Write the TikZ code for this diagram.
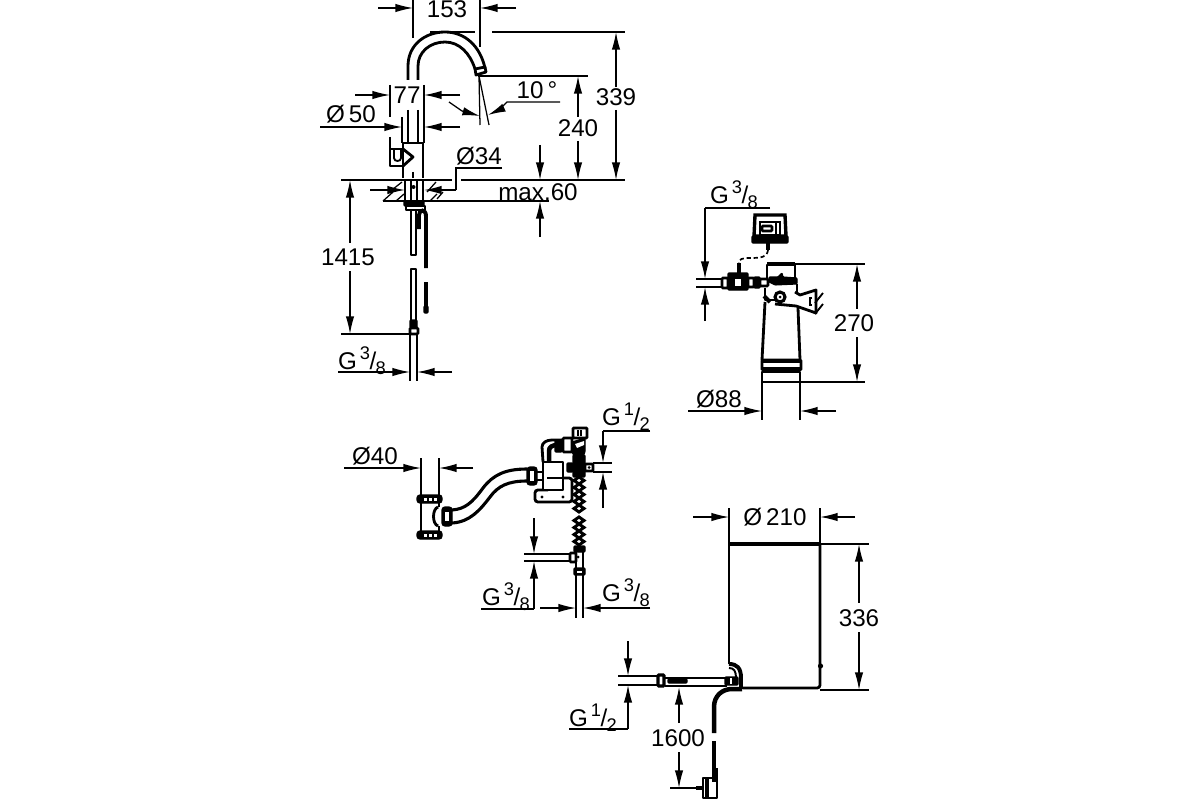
\documentclass[tikz,border=0pt]{standalone}
\usepackage{fontspec}
\setmainfont{Liberation Sans}
\usepackage{tikz}
\usetikzlibrary{arrows.meta}
\tikzset{>={Latex[width=2.1mm,length=4.4mm]}}
\tikzset{
  dimline/.style={line width=0.9pt},
  dimlabel/.style={inner sep=0pt, font=\fontsize{17.2}{19}\selectfont},
  outline/.style={line width=2pt, line join=round},
  heavy/.style={line width=2.8pt},
  solid part/.style={fill=black, draw=black, line width=0.8pt, rounded corners=0.6pt},
  hollow part/.style={fill=white, draw=black, line width=1.8pt, rounded corners=0.6pt},
}
\newcommand{\gsize}[2]{G\kern0.12em\raisebox{0.42em}{\fontsize{13}{14}\selectfont #1}\kern-0.02em/\kern-0.02em\raisebox{-0.2em}{\fontsize{13}{14}\selectfont #2}}
\begin{document}
\begin{tikzpicture}[x=0.025cm, y=-0.025cm]
    \useasboundingbox (0,0) rectangle (1200,800);

    % tap: spout
    \draw[outline] (408,80) -- (408,66) .. controls (408,45) and (425,32) .. (445,32) .. controls (465,32) and (480,46) .. (485,68);
    \draw[outline] (418,80) -- (418,66) .. controls (418,52) and (430,42) .. (445,42) .. controls (459,42) and (470,53) .. (475,69);
    \draw[outline] (475,69) -- (485,67) -- (486,72) -- (476,75) -- cycle;
    \draw[dimline] (479,76) -- (480,125) (479,76) -- (489,125);

    % tap: body and handle
    \draw[outline] (408,110) -- (408,143) (418,110) -- (418,143);
    \draw[outline] (403,178) -- (403,143) -- (423,143) -- (423,178);
    \draw[outline] (403,149) -- (390,149) -- (390,166) -- (403,166);
    \draw[outline] (403,149) -- (413,157) -- (403,166);
    \draw[line width=1.3pt] (394,150) -- (394,158) .. controls (394,162) and (401,162) .. (401,158) -- (401,150);
    \draw[dimline] (413,172) -- (413,178);

    % tap: deck fixing
    \draw[outline] (405,180) -- (405,204) (423,180) -- (423,204);
    \draw[outline] (411,181) -- (411,201) (417,181) -- (417,201);
    \fill (413.5,187) circle (2);
    \draw[solid part] (404,201) rectangle (424,206);
    \draw[outline] (406,206) rectangle (425,210);
    \draw[dimline] (388,193) -- (402,182) (383,201) -- (393,192) (396,201) -- (404,194);
    \draw[dimline] (427,192) -- (436,182) (430,201) -- (437,194) (437,199) -- (443,192);

    % tap: hoses
    \draw[outline] (411,210) -- (411,255) -- (416,255) -- (416,210);
    \draw[outline] (411,320) -- (411,269) -- (416,269) -- (416,320);
    \draw[solid part] (410,320) rectangle (417,328);
    \draw[hollow part] (410,328) rectangle (418,334);
    \draw[heavy] (419,229) -- (419,215) .. controls (419,209) and (426,209) .. (426,216) -- (426,268);
    \draw[heavy] (426,282) -- (426,306);
    \draw[solid part] (424,306) rectangle (428,313);
    \draw[dimline] (410,334) -- (410,381) (417,334) -- (417,381);

    % tap: dimensions
    \draw[dimline] (413,0) -- (413,38) (480,0) -- (480,47);
    \draw[dimline,->] (378,8) -- (413,8);
    \draw[dimline,->] (516,8) -- (480,8);
    \node[dimlabel] (label153) at (447,9) {153};
    \draw[dimline] (430,32) -- (475,32) (492,32) -- (625,32);
    \draw[dimline,<-] (616,32) -- (616,87);
    \draw[dimline,->] (616,110) -- (616,180);
    \node[dimlabel] (label339) at (616,97) {339};
    \draw[dimline] (341,180) -- (452,180) (461,180) -- (625,180);
    \draw[dimline] (478,76) -- (588,76);
    \draw[dimline,<-] (578,76) -- (578,117);
    \draw[dimline,->] (578,141) -- (578,180);
    \node[dimlabel] (label240) at (578,128) {240};
    \node[dimlabel] (label10) at (537,90) {10\,°};
    \draw[dimline,->] (449,102) -- (462,111) -- (480,116);
    \draw[dimline,->] (560,102) -- (507,102) -- (499,110) -- (488,115);
    \draw[dimline] (390,85) -- (390,117) (424,85) -- (424,143) (402,117) -- (402,143) (390,137) -- (390,149);
    \draw[dimline,->] (355,95) -- (390,95);
    \draw[dimline,->] (460,95) -- (424,95);
    \node[dimlabel] (label77) at (407,95) {77};
    \draw[dimline,->] (320,127) -- (402,127);
    \draw[dimline,->] (460,127) -- (424,127);
    \node[dimlabel] (label50) at (351,114) {Ø\,50};
    \node[dimlabel] (label34) at (479,156) {Ø34};
    \draw[dimline] (502,168) -- (456,168) -- (456,190);
    \draw[dimline,->] (456,190) -- (424,190);
    \draw[dimline,->] (370,190) -- (405,190);
    \draw[line width=1.6pt] (383,201) -- (432,201);
    \draw[dimline] (432,201) -- (549,201);
    \node[dimlabel] (labelmax) at (538,192) {max.60};
    \draw[dimline,->] (540,145) -- (540,180);
    \draw[dimline,->] (540,237) -- (540,201);
    \draw[dimline,<-] (350,180) -- (350,243);
    \draw[dimline,->] (350,271) -- (350,334);
    \node[dimlabel] (label1415) at (348,257) {1415};
    \draw[dimline] (341,334) -- (410,334);
    \node[dimlabel] (labelga) at (362,361) {\gsize{3}{8}};
    \draw[dimline,->] (338,372) -- (410,372);
    \draw[dimline,->] (452,372) -- (417,372);

    % filter: controller and cable
    \draw[line width=2.4pt, fill=white] (755,215) -- (785,215) -- (786,236) -- (754,236) -- cycle;
    \draw[solid part] (752,236) -- (788,236) -- (788,243) -- (752,243) -- cycle;
    \draw[line width=1.3pt] (760,222) rectangle (780,235);
    \draw[hollow part] (762,226) rectangle (772,231);
    \draw[line width=1.4pt] (776,223) -- (776,234);
    \draw[heavy] (768,243) -- (768,250);
    \draw[densely dashed, line width=1.2pt] (768,250) .. controls (767,257) and (762,258) .. (750,258) .. controls (742,258) and (739,259) .. (739,263);
    \draw[heavy] (739,263) -- (739,273);

    % filter: valve and head
    \draw[dimline] (696,279) -- (722,279) (696,287) -- (722,287);
    \draw[hollow part] (722,278) rectangle (728,288);
    \draw[solid part] (728,273) rectangle (748,290);
    \fill[white] (735,279) rectangle (741,286);
    \draw[hollow part] (748,278) rectangle (754,287);
    \draw[solid part] (754,277) rectangle (760,288);
    \draw[hollow part] (760,279) rectangle (768,286);
    \draw[outline] (767,279) -- (767,265) -- (795,265) -- (795,279);
    \draw[heavy] (767,264) -- (795,264);
    \draw[solid part] (769,277) -- (778,277) -- (782,273) -- (783,277) -- (797,278) -- (797,284) -- (775,285) -- (769,282) -- cycle;

    % filter: body
    \draw[outline] (765,288) -- (765,300) -- (797,300) -- (797,284);
    \draw[heavy] (764,296) -- (770,302);
    \draw[outline] (765,302) -- (762,360);
    \draw[outline] (798,308) -- (800,360);
    \draw[hollow part] (762,360) rectangle (801,370);
    \draw[heavy] (762,361) -- (801,361);
    \draw[heavy] (762,369) -- (801,369);
    \draw[outline] (762,372) rectangle (800,382);

    % filter: bracket
    \draw[outline, fill=white] (775,304) -- (796,306) -- (816,313) -- (816,290) -- (800,295) -- (795,292);
    \draw[hollow part, line width=2.2pt] (780,297) circle (5);
    \fill (780,297) circle (1.5);
    \draw[line width=1.3pt] (823,293) -- (815,303) (823,304) -- (815,314);
    \draw[line width=1.3pt] (812,298) -- (810,298) -- (810,305) -- (812,305);

    % filter: dimensions
    \node[dimlabel] (labelgb) at (734,195) {\gsize{3}{8}};
    \draw[dimline] (770,208) -- (705,208);
    \draw[dimline,->] (705,208) -- (705,279);
    \draw[dimline,->] (705,321) -- (705,287);
    \draw[dimline] (795,264) -- (865,264) (800,382) -- (865,382);
    \draw[dimline,<-] (857,264) -- (857,309);
    \draw[dimline,->] (857,337) -- (857,382);
    \node[dimlabel] (label270) at (854,323) {270};
    \draw[dimline] (762,382) -- (762,420) (800,382) -- (800,420);
    \draw[dimline,->] (688,411) -- (762,411);
    \draw[dimline,->] (836,411) -- (800,411);
    \node[dimlabel] (label88) at (719,399) {Ø88};

    % waste pipe and hose
    \draw[outline] (421,503) -- (421,531) (439,503) -- (439,507) (439,526) -- (439,531);
    \draw[outline, fill=white] (438,507) .. controls (432,509) and (432,524) .. (438,526);
    \draw[solid part, rounded corners=2pt] (417,495) rectangle (442,503);
    \draw[solid part, rounded corners=2pt] (417,531) rectangle (442,539);
    \foreach \px in {424,429,434} {
      \fill[white] (\px,497.5) rectangle ++(2.5,3);
      \fill[white] (\px,533.5) rectangle ++(2.5,3);
    }
    \draw[solid part, rounded corners=2pt] (442,507) rectangle (452,526);
    \fill[white] (445,512) rectangle (449,521);
    \draw[line width=2.2pt] (452,510) .. controls (465,509) and (472,503) .. (483,488) .. controls (493,475) and (505,469) .. (527,469);
    \draw[line width=2.2pt] (452,523) .. controls (470,522) and (480,510) .. (490,497) .. controls (498,486) and (508,481) .. (527,481);
    \draw[solid part, rounded corners=2pt] (527,467) rectangle (537,485);
    \fill[white] (530,471) rectangle (534,481);

    % mixing unit
    \draw[outline] (537,472) -- (543,472) (537,480) -- (543,480);
    \draw[line width=2pt, rounded corners=2pt] (548,490) -- (535,490) -- (535,502) -- (572,502) -- (572,478) -- (563,478);
    \draw[outline, fill=white] (543,462) rectangle (563,490);
    \draw[outline] (547,478) -- (563,478);
    \fill (542,497) circle (1.6) (563,497) circle (1.6);
    \draw[outline] (543,462) -- (542,447) .. controls (542,443) and (546,440) .. (552,440) -- (564,440);
    \draw[line width=3.2pt] (549,462) -- (549,451) .. controls (549,447) and (552,445) .. (558,445);
    \draw[solid part] (555,440) rectangle (562,452);
    \draw[hollow part] (563,438) rectangle (572,452);
    \draw[solid part] (572,442) -- (585,438) -- (585,452) -- (582,458) -- (575,458) -- (572,452) -- cycle;
    \draw[hollow part, line width=2pt] (573,428) rectangle (587,438);
    \draw[dimline] (578,430) -- (578,436) (581,430) -- (581,436);
    \fill[white] (575,444) -- (584,441) -- (584,445) -- (577,448) -- cycle;
    \draw[solid part] (573,455) rectangle (585,477);
    \draw[solid part] (567,463) rectangle (573,472);
    \draw[hollow part] (585,464) rectangle (593,471);
    \fill (589,467.5) circle (1.5);
    \draw[dimline] (593,463) -- (612,463) (593,472) -- (612,472);

    % braided hose
    \foreach \py in {477,484,...,505,517,524,...,538} {
      \draw[line width=2.1pt] (579,\py) -- (584,\py+3.5) -- (579,\py+7) -- (574,\py+3.5) -- cycle;
    }
    \draw[solid part] (574,546) rectangle (585,552);
    \draw[outline] (576,552) -- (576,568) (583,552) -- (583,568);
    \draw[hollow part] (570,553) rectangle (576,562);
    \fill (578,557) circle (1.5);
    \draw[solid part] (574,568) rectangle (585,575);
    \fill[white] (577,570.5) rectangle (582,572.5);
    \draw[dimline] (576,575) -- (576,618) (583,575) -- (583,618);
    \draw[dimline] (524,554) -- (570,554) (524,561) -- (570,561);

    % waste and mixing dimensions
    \node[dimlabel] (label40) at (375,456) {Ø40};
    \draw[dimline] (421,458) -- (421,495) (439,458) -- (439,495);
    \draw[dimline,->] (344,468) -- (421,468);
    \draw[dimline,->] (473,468) -- (439,468);
    \node[dimlabel] (labelgc) at (626,417) {\gsize{1}{2}};
    \draw[dimline] (650,431) -- (603,431);
    \draw[dimline,->] (603,431) -- (603,463);
    \draw[dimline,->] (603,508) -- (603,472);
    \draw[dimline,->] (534,518) -- (534,554);
    \draw[dimline,->] (534,609) -- (534,561);
    \draw[dimline] (481,609) -- (534,609);
    \node[dimlabel] (labelgd) at (506,597) {\gsize{3}{8}};
    \draw[dimline,->] (540,608) -- (576,608);
    \draw[dimline,->] (650,608) -- (583,608);
    \node[dimlabel] (labelge) at (626,593) {\gsize{3}{8}};

    % tank
    \draw[heavy] (729,544) -- (820,544);
    \draw[outline] (729,544) -- (729,664);
    \draw[outline, rounded corners=2pt] (820,544) -- (820,688) -- (743,688);
    \fill (820.5,666) circle (2.6);
    \draw[line width=2.8pt] (729,664) .. controls (737,664) and (741,668) .. (741,678) -- (741,689);
    \draw[line width=1.4pt] (729,668) .. controls (734,668) and (736,671) .. (736,678);

    % tank: inlet pipe and cable
    \draw[dimline] (618,676) -- (657,676) (618,685) -- (657,685);
    \draw[hollow part, line width=2.2pt] (658,675) rectangle (664,686);
    \draw[line width=1.3pt] (665,678) -- (727,678) (665,686) -- (727,686);
    \draw[solid part] (668,679) rectangle (687,683);
    \draw[solid part] (725,677) rectangle (738,685);
    \draw[white, line width=0.8pt] (731,678) -- (731,684);
    \draw[line width=3.2pt] (742,689) -- (732,689) .. controls (722,689) and (714,696) .. (714,707) -- (714,733);
    \draw[line width=3.2pt] (714,741) -- (714,770);
    \draw[line width=4.5pt] (715,768) -- (715,782);
    \draw[outline] (703,778) -- (703,798) -- (717,798) -- (717,778) -- cycle;
    \draw[heavy] (707,778) -- (707,798);
    \draw[line width=3pt] (696,788) -- (703,788);

    % tank: dimensions
    \node[dimlabel] (label210) at (775,517) {Ø\,210};
    \draw[dimline] (729,508) -- (729,544) (820,508) -- (820,544);
    \draw[dimline,->] (693,517) -- (729,517);
    \draw[dimline,->] (855,517) -- (820,517);
    \draw[dimline] (820,544) -- (869,544) (820,690) -- (869,690);
    \draw[dimline,<-] (859,544) -- (859,603);
    \draw[dimline,->] (859,632) -- (859,690);
    \node[dimlabel] (label336) at (859,618) {336};
    \draw[dimline,->] (628,641) -- (628,676);
    \draw[dimline,->] (628,729) -- (628,685);
    \draw[dimline] (569,729) -- (628,729);
    \node[dimlabel] (labelgf) at (593,718) {\gsize{1}{2}};
    \draw[dimline,->] (679,723) -- (679,687);
    \draw[dimline,->] (679,752) -- (679,788);
    \node[dimlabel] (label1600) at (678,738) {1600};
    \draw[dimline] (670,788) -- (696,788);
\end{tikzpicture}
\end{document}
